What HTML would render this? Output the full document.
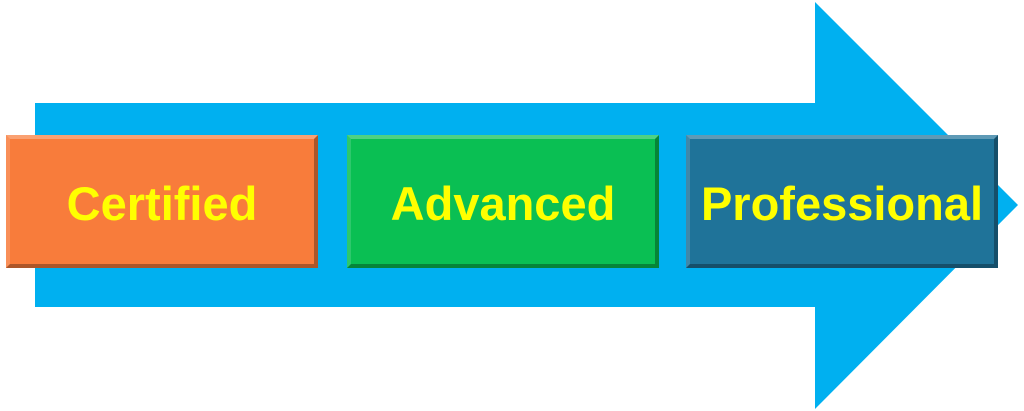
<!DOCTYPE html>
<html><head><style>
html,body{margin:0;padding:0;background:#fff;}
body{width:1024px;height:411px;position:relative;overflow:hidden;font-family:"Liberation Sans",Arial,sans-serif;}
svg{position:absolute;left:0;top:0;}
.b{position:absolute;top:135px;width:312px;height:133px;box-sizing:border-box;display:flex;align-items:center;justify-content:center;color:#ffff00;font-weight:bold;font-size:47px;padding-top:3px;border-top:4px solid rgba(255,255,255,0.28);border-left:4px solid rgba(255,255,255,0.15);border-right:4px solid rgba(0,0,0,0.3);border-bottom:4px solid rgba(0,0,0,0.3);}
</style></head><body>
<svg width="1024" height="411"><polygon points="35,103 815,103 815,2 1018,205 815,409 815,307 35,307" fill="#00b0f0"/></svg>
<div class="b" style="left:6px;background:#f87c3b;">Certified</div>
<div class="b" style="left:347px;background:#0abf53;">Advanced</div>
<div class="b" style="left:686px;background:#1f7399;">Professional</div>
</body></html>
